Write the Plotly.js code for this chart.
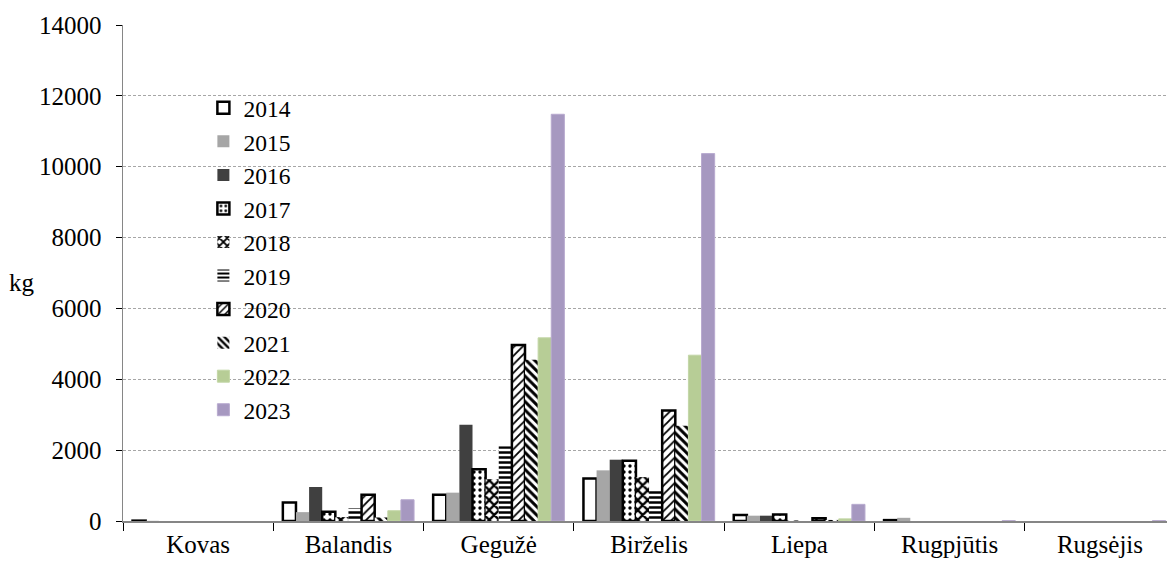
<!DOCTYPE html>
<html>
<head>
<meta charset="utf-8">
<script src="https://cdn.plot.ly/plotly-3.0.1.min.js"></script>
<style>html,body{margin:0;padding:0;background:#fff;}#chart{width:1167px;height:566px;}</style>
</head>
<body>
<div id="chart"></div>
<script>
const months = ["Kovas", "Balandis", "Gegužė", "Birželis", "Liepa", "Rugpjūtis", "Rugsėjis"];
const years = ["2014", "2015", "2016", "2017", "2018", "2019", "2020", "2021", "2022", "2023"];
const y2014 = [10, 520, 740, 1200, 170, 25, 0];
const y2015 = [5, 250, 800, 1430, 150, 90, 0];
const y2016 = [0, 960, 2720, 1730, 150, 0, 0];
const y2017 = [0, 260, 1460, 1700, 180, 0, 0];
const y2018 = [0, 110, 1180, 1240, 15, 0, 0];
const y2019 = [0, 360, 2110, 850, 40, 0, 0];
const y2020 = [0, 740, 4970, 3120, 75, 0, 0];
const y2021 = [0, 100, 4550, 2690, 30, 0, 0];
const y2022 = [0, 290, 5170, 4680, 60, 0, 0];
const y2023 = [0, 600, 11480, 10370, 470, 10, 10];
const yTicks = [0, 2000, 4000, 6000, 8000, 10000, 12000, 14000];

const seriesValues = [y2014, y2015, y2016, y2017, y2018, y2019, y2020, y2021, y2022, y2023];

const FONT = "Liberation Serif";

const styles = [
  {color: "#ffffff", line: {color: "#000000", width: 2.5}},
  {color: "#a6a6a6", line: {width: 0}},
  {color: "#404040", line: {width: 0}},
  {color: "#ffffff", line: {color: "#000000", width: 2.5}, pattern: {shape: ".", fgcolor: "#000000", bgcolor: "#ffffff", size: 6, solidity: 0.25, fillmode: "replace"}},
  {color: "#ffffff", line: {width: 0}, pattern: {shape: "x", fgcolor: "#000000", bgcolor: "#ffffff", size: 7, solidity: 0.55, fillmode: "replace"}},
  {color: "#ffffff", line: {width: 0}, pattern: {shape: "-", fgcolor: "#000000", bgcolor: "#ffffff", size: 5, solidity: 0.5, fillmode: "replace"}},
  {color: "#ffffff", line: {color: "#000000", width: 2.5}, pattern: {shape: "/", fgcolor: "#000000", bgcolor: "#ffffff", size: 6, solidity: 0.3, fillmode: "replace"}},
  {color: "#ffffff", line: {width: 0}, pattern: {shape: "\\", fgcolor: "#000000", bgcolor: "#ffffff", size: 6, solidity: 0.5, fillmode: "replace"}},
  {color: "#b7cd96", line: {color: "#c3d6a6", width: 1}},
  {color: "#a698c0", line: {color: "#b8aacf", width: 1}}
];

const traces = years.map((yr, i) => ({
  type: "bar",
  name: yr,
  x: months,
  y: seriesValues[i].map(v => (v > 0 ? v : null)),
  marker: styles[i],
  hoverinfo: "x+y+name"
}));

const layout = {
  width: 1167,
  height: 566,
  margin: {l: 123, r: 0, t: 25, b: 45},
  paper_bgcolor: "#ffffff",
  plot_bgcolor: "#ffffff",
  font: {family: FONT, size: 25, color: "#000000"},
  barmode: "group",
  bargap: 0.127,
  bargroupgap: 0,
  showlegend: true,
  legend: {
    x: 0.077, xanchor: "left",
    y: 0.877, yanchor: "top",
    bgcolor: "rgba(255,255,255,0)",
    font: {family: FONT, size: 23.5, color: "#000000"},
    tracegroupgap: 0
  },
  xaxis: {
    type: "category",
    range: [-0.5, 6.446],
    showline: true,
    linecolor: "#868686",
    linewidth: 1.5,
    ticks: "outside",
    tickson: "boundaries",
    ticklen: 8,
    tickcolor: "#000000",
    tickwidth: 1,
    showgrid: false,
    zeroline: false,
    tickfont: {family: FONT, size: 25, color: "#000000"}
  },
  yaxis: {
    range: [0, 14000],
    tickvals: yTicks,
    ticktext: yTicks.map(String),
    showline: true,
    linecolor: "#868686",
    linewidth: 1.5,
    ticks: "outside",
    ticklen: 6,
    tickcolor: "#000000",
    showgrid: true,
    gridcolor: "#a6a6a6",
    gridwidth: 1,
    griddash: "3px,2px",
    zeroline: false,
    ticklabelstandoff: 9,
    tickfont: {family: FONT, size: 25, color: "#000000"}
  },
  shapes: [{
    type: "rect", layer: "between",
    xref: "paper", yref: "paper",
    x0: 0.047, x1: 0.206, y0: 0.16, y1: 0.93,
    fillcolor: "#ffffff", line: {width: 0}
  }],
  annotations: [{
    text: "kg", xref: "paper", yref: "paper",
    x: -0.097, y: 0.48, xanchor: "center", yanchor: "middle",
    showarrow: false,
    font: {family: FONT, size: 25, color: "#000000"}
  }]
};

Plotly.newPlot("chart", traces, layout, {displayModeBar: false, staticPlot: true});
</script>
</body>
</html>
